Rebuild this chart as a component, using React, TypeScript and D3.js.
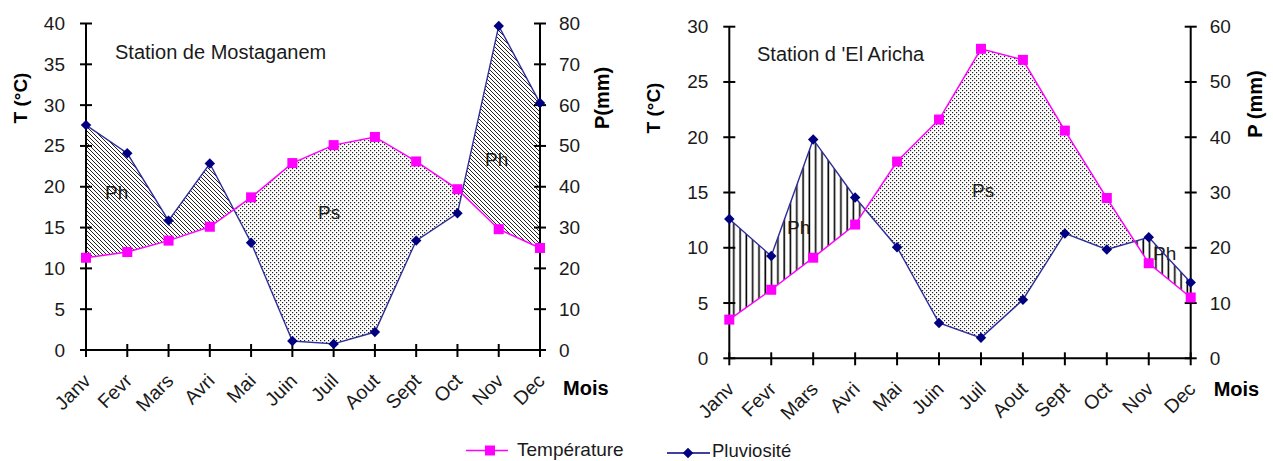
import React from "react";
import * as d3 from "d3";

const months = ["Janv", "Fevr", "Mars", "Avri", "Mai", "Juin", "Juil", "Aout", "Sept", "Oct", "Nov", "Dec"];
const mostaTemp = [11.3, 12.0, 13.4, 15.1, 18.7, 22.9, 25.1, 26.1, 23.1, 19.7, 14.8, 12.5];
const mostaRain = [55.1, 48.2, 31.7, 45.7, 26.3, 2.2, 1.5, 4.4, 26.8, 33.5, 79.4, 60.5];
const arichaTemp = [3.5, 6.2, 9.1, 12.1, 17.8, 21.6, 28.0, 27.0, 20.6, 14.5, 8.6, 5.5];
const arichaRain = [25.2, 18.5, 39.6, 29.1, 20.1, 6.4, 3.7, 10.6, 22.6, 19.7, 21.9, 13.7];
const mostaTempTicks = [0, 5, 10, 15, 20, 25, 30, 35, 40];
const mostaRainTicks = [0, 10, 20, 30, 40, 50, 60, 70, 80];
const arichaTempTicks = [0, 5, 10, 15, 20, 25, 30];
const arichaRainTicks = [0, 10, 20, 30, 40, 50, 60];

const FONT = "'Liberation Sans', Arial, sans-serif";
const TXT = "#1a1a1a";

type Pt = [number, number];

function regions(pP: Pt[], pT: Pt[]) {
  const out: { sign: number; pts: Pt[] }[] = [];
  const d = pP.map((p, i) => pT[i][1] - p[1]);
  let cur = { sign: Math.sign(d[0]) || 1, pp: [pP[0]] as Pt[], tp: [pT[0]] as Pt[] };
  for (let i = 0; i < pP.length - 1; i++) {
    if (d[i] * d[i + 1] < 0) {
      const t = d[i] / (d[i] - d[i + 1]);
      const c: Pt = [pP[i][0] + t * (pP[i + 1][0] - pP[i][0]), pP[i][1] + t * (pP[i + 1][1] - pP[i][1])];
      cur.pp.push(c);
      cur.tp.push(c);
      out.push({ sign: cur.sign, pts: [...cur.pp, ...cur.tp.slice().reverse()] });
      cur = { sign: Math.sign(d[i + 1]), pp: [c], tp: [c] };
    }
    cur.pp.push(pP[i + 1]);
    cur.tp.push(pT[i + 1]);
  }
  out.push({ sign: cur.sign, pts: [...cur.pp, ...cur.tp.slice().reverse()] });
  return out;
}

type ChartProps = {
  x0: number; x1: number; yTop: number; yBot: number;
  tMax: number; pMax: number;
  temp: number[]; rain: number[];
  tTicks: number[]; pTicks: number[];
  title: string; titleX: number; titleY: number;
  hatchId: string;
  labels: { t: string; x: number; y: number }[];
  tTitleX: number; tTitleY: number;
  pTitle: string; pTitleX: number; pTitleY: number;
  moisY: number;
};

function Chart(p: ChartProps) {
  const xS = d3.scalePoint<string>().domain(months).range([p.x0, p.x1]);
  const yT = d3.scaleLinear().domain([0, p.tMax]).range([p.yBot, p.yTop]);
  const yP = d3.scaleLinear().domain([0, p.pMax]).range([p.yBot, p.yTop]);
  const pT: Pt[] = p.temp.map((v, i) => [xS(months[i])!, yT(v)]);
  const pP: Pt[] = p.rain.map((v, i) => [xS(months[i])!, yP(v)]);
  const regs = regions(pP, pT);
  const line = d3.line<Pt>();
  const diamond = d3.symbol().type(d3.symbolDiamond2).size(70)()!;
  return (
    <g fontFamily={FONT}>
      {regs.map((r, i) => (
        <g key={i}>
          <path d={line(r.pts)!} fill="#fff" />
          <path d={line(r.pts)!} fill={`url(#${r.sign > 0 ? p.hatchId : "dots"})`} />
        </g>
      ))}
      {p.labels.map((l, i) => (
        <text key={i} x={l.x} y={l.y} fontSize={19} fill={TXT} dominantBaseline="central">{l.t}</text>
      ))}
      <line x1={p.x0} x2={p.x0} y1={p.yTop} y2={p.yBot} stroke="#000" strokeWidth={2} />
      <line x1={p.x1} x2={p.x1} y1={p.yTop} y2={p.yBot} stroke="#000" strokeWidth={2} />
      <line x1={p.x0} x2={p.x1} y1={p.yBot} y2={p.yBot} stroke="#000" strokeWidth={2} />
      {p.tTicks.map((t) => (
        <g key={"t" + t}>
          <line x1={p.x0 - 6} x2={p.x0 + 6} y1={yT(t)} y2={yT(t)} stroke="#000" strokeWidth={2} />
          <text x={p.x0 - 21} y={yT(t)} textAnchor="end" dominantBaseline="central" fontSize={19} fill={TXT}>{t}</text>
        </g>
      ))}
      {p.pTicks.map((t) => (
        <g key={"p" + t}>
          <line x1={p.x1 - 6} x2={p.x1 + 6} y1={yP(t)} y2={yP(t)} stroke="#000" strokeWidth={2} />
          <text x={p.x1 + 19} y={yP(t)} dominantBaseline="central" fontSize={19} fill={TXT}>{t}</text>
        </g>
      ))}
      {months.map((m) => (
        <g key={m}>
          <line x1={xS(m)!} x2={xS(m)!} y1={p.yBot - 6} y2={p.yBot + 7} stroke="#000" strokeWidth={2} />
          <text transform={`translate(${xS(m)! + 6},${p.yBot + 32}) rotate(-45)`} textAnchor="end" fontSize={19.5} fill={TXT}>{m}</text>
        </g>
      ))}
      <text x={p.x1 + 23} y={p.moisY} fontSize={20} fontWeight="bold" fill="#000">Mois</text>
      <text transform={`translate(${p.tTitleX},${p.tTitleY}) rotate(-90)`} textAnchor="middle" dominantBaseline="central" fontSize={19} fontWeight="bold" fill="#000">T (°C)</text>
      <text transform={`translate(${p.pTitleX},${p.pTitleY}) rotate(-90)`} textAnchor="middle" dominantBaseline="central" fontSize={20} fontWeight="bold" fill="#000">{p.pTitle}</text>
      <text x={p.titleX} y={p.titleY} dominantBaseline="central" fontSize={20} fill={TXT}>{p.title}</text>
      <path d={line(pP)!} fill="none" stroke="#2e2e9a" strokeWidth={1.4} />
      <path d={line(pT)!} fill="none" stroke="#ff00ff" strokeWidth={1.5} />
      {pP.map((q, i) => (
        <path key={"d" + i} d={diamond} transform={`translate(${q[0]},${q[1]})`} fill="#000080" />
      ))}
      {pT.map((q, i) => (
        <rect key={"s" + i} x={q[0] - 5} y={q[1] - 5} width={10} height={10} fill="#ff00ff" />
      ))}
    </g>
  );
}

export default function App() {
  const diamond = d3.symbol().type(d3.symbolDiamond2).size(70)()!;
  return (
    <svg width={1273} height={461} style={{ position: "absolute", left: 0, top: 0, background: "#fff" }}>
      <defs>
        <pattern id="diag" width={4} height={4} patternUnits="userSpaceOnUse">
          <path d="M-1,-1 L5,5 M-1,3 L1,5 M3,-1 L5,1" stroke="#222" strokeWidth={1} />
        </pattern>
        <pattern id="vert" width={6.3} height={10} patternUnits="userSpaceOnUse">
          <line x1={3} x2={3} y1={0} y2={10} stroke="#000" strokeWidth={1.6} />
        </pattern>
        <pattern id="dots" width={4} height={4} patternUnits="userSpaceOnUse">
          <rect x={0} y={0} width={1.2} height={1.2} fill="#222" />
          <rect x={2} y={2} width={1.2} height={1.2} fill="#222" />
        </pattern>
      </defs>
      <Chart
        x0={86} x1={540} yTop={23.5} yBot={350} tMax={40} pMax={80}
        temp={mostaTemp} rain={mostaRain} tTicks={mostaTempTicks} pTicks={mostaRainTicks}
        title="Station de Mostaganem" titleX={115} titleY={52} hatchId="diag"
        labels={[{ t: "Ph", x: 105, y: 192 }, { t: "Ps", x: 318, y: 212 }, { t: "Ph", x: 485, y: 159 }]}
        tTitleX={20} tTitleY={98} pTitle="P(mm)" pTitleX={602} pTitleY={98} moisY={395}
      />
      <Chart
        x0={729.3} x1={1190.7} yTop={26.7} yBot={358.3} tMax={30} pMax={60}
        temp={arichaTemp} rain={arichaRain} tTicks={arichaTempTicks} pTicks={arichaRainTicks}
        title="Station d 'El Aricha" titleX={757} titleY={54} hatchId="vert"
        labels={[{ t: "Ph", x: 787, y: 227 }, { t: "Ps", x: 972, y: 190 }, { t: "Ph", x: 1153, y: 253 }]}
        tTitleX={653} tTitleY={108} pTitle="P (mm)" pTitleX={1255} pTitleY={104} moisY={396}
      />
      <g fontFamily={FONT}>
        <line x1={466} x2={508} y1={450.5} y2={450.5} stroke="#ff00ff" strokeWidth={1.5} />
        <rect x={485} y={445.5} width={10} height={10} fill="#ff00ff" />
        <text x={517} y={449} dominantBaseline="central" fontSize={19} fill={TXT}>Température</text>
        <line x1={667} x2={710} y1={453} y2={453} stroke="#000080" strokeWidth={1.4} />
        <path d={diamond} transform="translate(688,453)" fill="#000080" />
        <text x={712} y={450.5} dominantBaseline="central" fontSize={18.5} fill={TXT}>Pluviosité</text>
      </g>
    </svg>
  );
}
